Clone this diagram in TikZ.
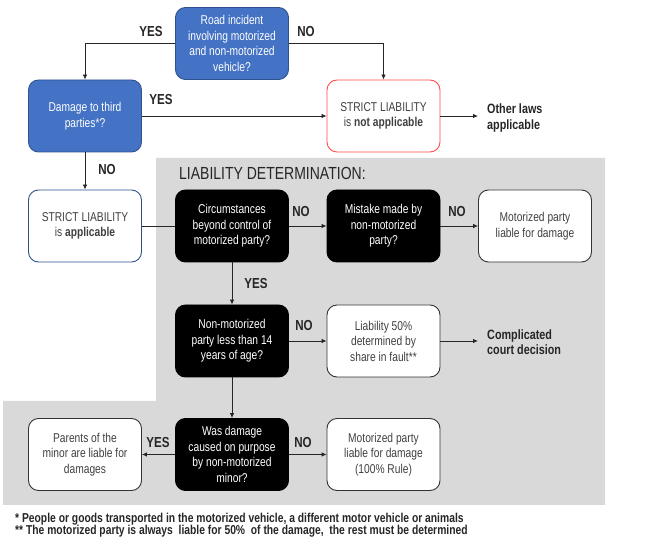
\documentclass[tikz,border=0pt]{standalone}
\usepackage{fontspec}
\setmainfont{Liberation Sans}[FakeStretch=0.8]
\usetikzlibrary{arrows.meta}
\definecolor{boxblue}{HTML}{4472C4}
\definecolor{boxblueline}{HTML}{2F528F}
\definecolor{redline}{HTML}{FF4B4B}
\definecolor{graybg}{HTML}{D9D9D9}
\definecolor{txt}{HTML}{262626}
\definecolor{boxtxt}{HTML}{404040}
\tikzset{
  base/.style={rounded corners=10pt, minimum width=113pt, minimum height=72pt, align=center, inner sep=2pt,
    font=\fontsize{12.8}{15.5}\selectfont, line width=0.9pt},
  bluebox/.style={base, fill=boxblue, draw=boxblueline, text=white},
  blackbox/.style={base, fill=black, draw=black, text=white},
  whitebox/.style={base, fill=white, draw=black!80, text=boxtxt},
  redbox/.style={base, fill=white, draw=redline, text=boxtxt},
  appbox/.style={base, fill=white, draw=boxblueline, text=boxtxt},
  lab/.style={font=\fontsize{14.5}{16}\selectfont\bfseries, text=txt},
  side/.style={font=\fontsize{13.5}{15.5}\selectfont\bfseries, text=txt, align=left, anchor=west, inner ysep=0pt, inner xsep=9pt},
  arr/.style={-{Latex[length=5pt,width=4.5pt]}, line width=0.8pt, draw=black!85},
  ln/.style={line width=0.8pt, draw=black!85},
  fn/.style={font=\fontsize{12.9}{14}\selectfont\bfseries, text=txt, anchor=west, inner sep=0pt},
}
\begin{document}
\begin{tikzpicture}[x=1pt,y=-1pt]
\useasboundingbox (0,0) rectangle (665,553);
\fill[graybg] (156,158) -- (605,158) -- (605,505) -- (3,505) -- (3,401) -- (156,401) -- cycle;
\node[font=\fontsize{17.5}{19}\selectfont, text=txt, anchor=west, inner sep=0pt] (title) at (179,173) {LIABILITY DETERMINATION:};

\node[bluebox] (road) at (232,43.5) {Road incident\\involving motorized\\and non-motorized\\vehicle?};
\node[bluebox] (damage) at (85,116) {Damage to third\\parties*?};
\node[redbox] (notapp) at (383.5,116) {STRICT LIABILITY\\is \textbf{not applicable}};
\node[side] (other) at (478,118) {Other laws\\applicable};
\node[appbox] (app) at (85,226) {STRICT LIABILITY\\is \textbf{applicable}};
\node[blackbox] (circ) at (232,226) {Circumstances\\beyond control of\\motorized party?};
\node[blackbox] (mistake) at (383.5,226) {Mistake made by\\non-motorized\\party?};
\node[whitebox] (mot1) at (535,226) {Motorized party\\liable for damage};
\node[blackbox] (age) at (232,341) {Non-motorized\\party less than 14\\years of age?};
\node[whitebox] (liab) at (383.5,341) {Liability 50\%\\determined by\\share in fault**};
\node[side] (court) at (478,342) {Complicated\\court decision};
\node[blackbox] (purpose) at (232,454.5) {Was damage\\caused on purpose\\by non-motorized\\minor?};
\node[whitebox] (parents) at (85,454.5) {Parents of the\\minor are liable for\\damages};
\node[whitebox] (mot2) at (383.5,454.5) {Motorized party\\liable for damage\\(100\% Rule)};

\draw[arr] (road.west) -| (damage.north);
\draw[arr] (road.east) -| (notapp.north);
\draw[arr] (damage) -- (notapp);
\draw[arr] (notapp.east) -- (notapp.east -| other.west);
\draw[arr] (damage) -- (app);
\draw[ln] (app) -- (circ);
\draw[arr] (circ) -- (mistake);
\draw[arr] (mistake) -- (mot1);
\draw[arr] (circ) -- (age);
\draw[arr] (age) -- (liab);
\draw[arr] (liab.east) -- (liab.east -| court.west);
\draw[arr] (age) -- (purpose);
\draw[arr] (purpose) -- (parents);
\draw[arr] (purpose) -- (mot2);

\node[lab] (l1) at (151,32) {YES};
\node[lab] (l2) at (306,32) {NO};
\node[lab] (l3) at (161,100) {YES};
\node[lab] (l4) at (107,170) {NO};
\node[lab] (l5) at (301,212) {NO};
\node[lab] (l6) at (457,212) {NO};
\node[lab] (l7) at (256,284) {YES};
\node[lab] (l8) at (304,326) {NO};
\node[lab] (l9) at (158,443) {YES};
\node[lab] (l10) at (303,443) {NO};

\node[fn] (fn1) at (15,519) {* People or goods transported in the motorized vehicle, a different motor vehicle or animals};
\node[fn] (fn2) at (15,531.5) {** The motorized party is always \ liable for 50\% \ of the damage, \ the rest must be determined};
\end{tikzpicture}
\end{document}
